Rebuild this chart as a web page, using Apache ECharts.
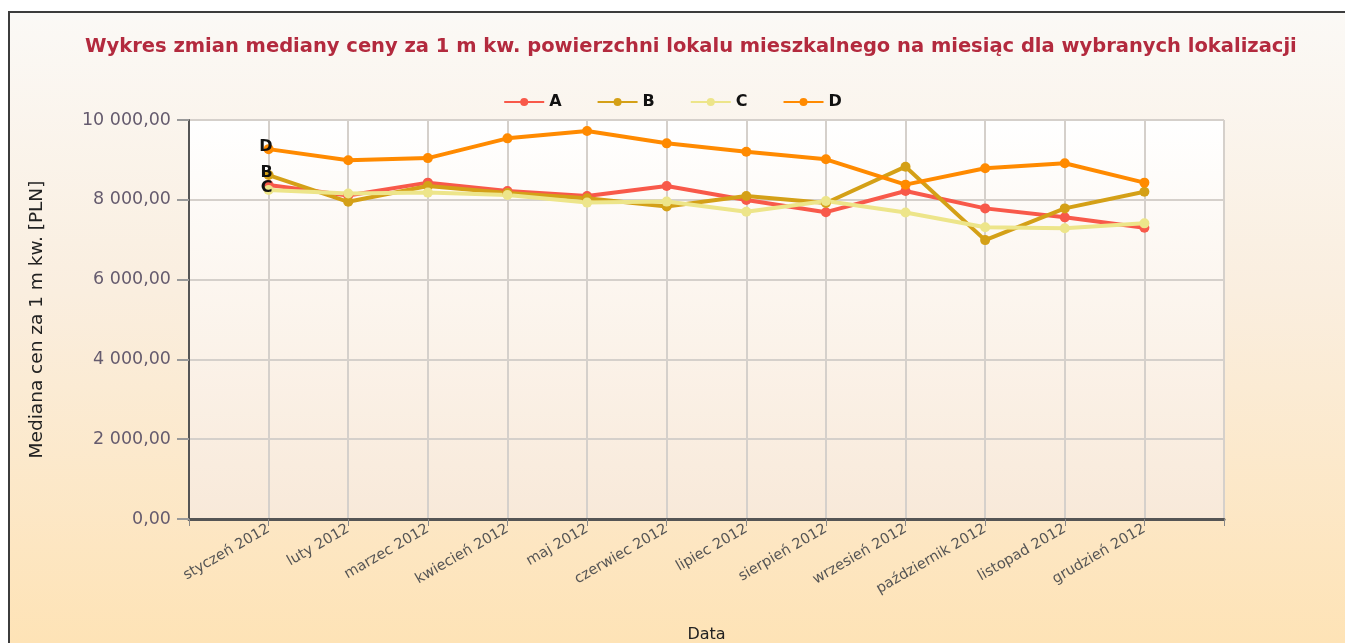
<!DOCTYPE html>
<html>
<head>
<meta charset="utf-8">
<script src="https://cdn.jsdelivr.net/npm/echarts@6/dist/echarts.min.js"></script>
<style>
html,body{margin:0;padding:0;background:#fff;}
#chart{width:1345px;height:643px;}
</style>
</head>
<body>
<div id="chart"></div>
<script>
const titleText = 'Wykres zmian mediany ceny za 1 m kw. powierzchni lokalu mieszkalnego na miesiąc dla wybranych lokalizacji';
const months = ['styczeń 2012','luty 2012','marzec 2012','kwiecień 2012','maj 2012','czerwiec 2012','lipiec 2012','sierpień 2012','wrzesień 2012','październik 2012','listopad 2012','grudzień 2012'];
const seriesNames = ['A','B','C','D'];
const valuesA = [8370, 8110, 8430, 8220, 8095, 8345, 7995, 7690, 8220, 7785, 7560, 7300];
const valuesB = [8620, 7950, 8345, 8170, 8040, 7830, 8095, 7920, 8830, 6990, 7785, 8200];
const valuesC = [8245, 8160, 8180, 8120, 7930, 7955, 7700, 7970, 7680, 7310, 7285, 7410];
const valuesD = [9270, 8990, 9045, 9540, 9725, 9415, 9205, 9015, 8380, 8790, 8915, 8430];
const yTicks = [0, 2000, 4000, 6000, 8000, 10000];
const colors = ['#F8594A', '#D4A017', '#EDE58A', '#FF8A00'];
const startLabels = [false, true, true, true];

const allValues = [valuesA, valuesB, valuesC, valuesD];
const categories = [''].concat(months).concat(['']);

function fmt(v){
  const s = Math.round(v).toString().replace(/\B(?=(\d{3})+(?!\d))/g, ' ');
  return s + ',00';
}

const series = allValues.map((vals, si) => {
  const data = ['-'];
  vals.forEach((v, i) => {
    if (i === 0 && startLabels[si]) {
      data.push({value: v, label: {show: true, position: 'left', distance: 0, offset: [9, -2], formatter: seriesNames[si], color: '#111', fontWeight: 'bold', fontSize: 16, fontFamily: 'DejaVu Sans'}});
    } else {
      data.push(v);
    }
  });
  data.push('-');
  return {
    name: seriesNames[si],
    type: 'line',
    data: data,
    symbol: 'circle',
    symbolSize: 10,
    showAllSymbol: true,
    lineStyle: {width: 4, color: colors[si]},
    itemStyle: {color: colors[si]},
    emphasis: {disabled: true},
    animation: false
  };
});

const chart = echarts.init(document.getElementById('chart'));
chart.setOption({
  animation: false,
  backgroundColor: '#ffffff',
  graphic: [{
    type: 'rect',
    z: -100,
    silent: true,
    shape: {x: 9, y: 12, width: 1400, height: 700},
    style: {
      fill: new echarts.graphic.LinearGradient(0, 0, 0, 1, [
        {offset: 0, color: '#FBF9F6'},
        {offset: 0.4, color: '#FAEEDF'},
        {offset: 0.9, color: '#FEE3B6'},
        {offset: 1, color: '#FFE2B3'}
      ]),
      stroke: '#3c3c3c',
      lineWidth: 2
    }
  }],
  title: {
    text: titleText,
    left: 80,
    top: 32,
    textStyle: {color: '#B32A3E', fontSize: 19.5, fontWeight: 'bold', fontFamily: 'DejaVu Sans'}
  },
  legend: {
    data: seriesNames,
    top: 89,
    left: 'center',
    itemWidth: 40,
    itemHeight: 10,
    itemGap: 35,
    textStyle: {color: '#111', fontWeight: 'bold', fontSize: 16, fontFamily: 'DejaVu Sans'}
  },
  grid: {
    left: 189, right: 121, top: 120, bottom: 124,
    outerBoundsMode: 'none',
    containLabel: false,
    show: true,
    borderWidth: 0,
    backgroundColor: new echarts.graphic.LinearGradient(0, 0, 0, 1, [
      {offset: 0, color: '#FFFFFF'},
      {offset: 1, color: '#F8E9D9'}
    ])
  },
  xAxis: {
    type: 'category',
    data: categories,
    boundaryGap: false,
    name: 'Data',
    nameLocation: 'middle',
    nameGap: 108,
    nameTextStyle: {color: '#222', fontSize: 16, fontFamily: 'DejaVu Sans'},
    axisLine: {lineStyle: {color: '#555', width: 3}},
    axisTick: {show: true, length: 7, lineStyle: {color: '#888', width: 1}, alignWithLabel: true},
    axisLabel: {
      interval: 0,
      rotate: 30,
      color: '#555',
      fontSize: 14.5,
      fontFamily: 'DejaVu Sans',
      margin: 9
    },
    splitLine: {show: true, lineStyle: {color: '#D5D0CB', width: 2}}
  },
  yAxis: {
    type: 'value',
    min: 0,
    max: 10000,
    interval: 2000,
    name: 'Mediana cen za 1 m kw. [PLN]',
    nameLocation: 'middle',
    nameGap: 142,
    nameTextStyle: {color: '#222', fontSize: 18.5, fontFamily: 'DejaVu Sans'},
    axisLine: {show: true, lineStyle: {color: '#555', width: 2}},
    axisTick: {show: true, length: 12, lineStyle: {color: '#999', width: 2}},
    axisLabel: {
      color: '#655B6E',
      fontSize: 17.5,
      fontFamily: 'DejaVu Sans',
      margin: 18,
      formatter: function(v){ return yTicks.indexOf(v) >= 0 ? fmt(v) : ''; }
    },
    splitLine: {show: true, lineStyle: {color: '#D5D0CB', width: 2}}
  },
  series: series
});
</script>
</body>
</html>
